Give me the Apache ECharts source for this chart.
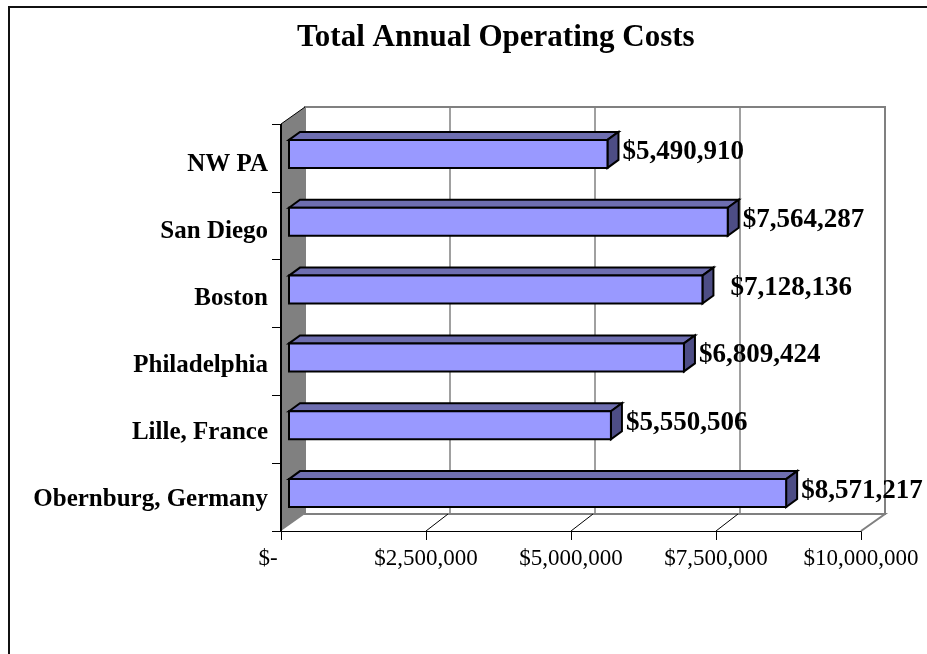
<!DOCTYPE html>
<html><head><meta charset="utf-8">
<style>html,body{margin:0;padding:0;background:#fff}#c{position:absolute;left:0;top:0;width:927px;height:654px}</style>
<script src="https://cdn.jsdelivr.net/npm/echarts@6/dist/echarts.min.js"></script>
</head><body><div id="c"></div>
<script>
var categories = ['Obernburg, Germany','Lille, France','Philadelphia','Boston','San Diego','NW PA'];
var costs = [8571217,5550506,6809424,7128136,7564287,5490910];
var valueTicks = [0,2500000,5000000,7500000,10000000];
var tickLabels = ['$-','$2,500,000','$5,000,000','$7,500,000','$10,000,000'];
var axisMax = 10000000;
var font = '"Liberation Serif","Times New Roman",serif';

function fmt(v){return '$'+String(v).replace(/\B(?=(\d{3})+$)/g,',');}
var DX=24, DY=-17;       // depth of the 3D box
var BX=8, BDX=11, BDY=-8; // bar front offset and bar depth

function wallItem(p, api){
  var a=api.coord([0,0]);
  var top=p.coordSys.y, bottom=p.coordSys.y+p.coordSys.height;
  var r=p.coordSys.x+p.coordSys.width;
  return {type:'group',children:[
    {type:'polygon',shape:{points:[[a[0],top],[a[0]+DX,top+DY],[a[0]+DX,bottom+DY],[a[0],bottom]]},
      style:{fill:'#808080',stroke:null}},
    {type:'polyline',shape:{points:[[a[0]+DX,bottom+DY],[r+DX,bottom+DY],[r,bottom]]},
      style:{fill:null,stroke:'#808080',lineWidth:2}},
    {type:'line',shape:{x1:a[0],y1:top,x2:a[0]+DX,y2:top+DY},style:{stroke:'#000',lineWidth:1}},
    {type:'line',shape:{x1:a[0],y1:top,x2:a[0],y2:bottom},style:{stroke:'#000',lineWidth:2}},
    {type:'text',style:{x:a[0]-13,y:bottom+28,text:tickLabels[0],fill:'#000',
      font:'23px '+font,verticalAlign:'middle',align:'center'}}
  ]};
}
function floorTick(p, api){
  var a=api.coord([api.value(0),0]);
  var bottom=p.coordSys.y+p.coordSys.height;
  return {type:'line',shape:{x1:a[0],y1:bottom,x2:a[0]+DX-2,y2:bottom+DY},style:{stroke:'#000',lineWidth:1}};
}
function barItem(p, api){
  var v=api.value(0), c=api.coord([v,api.value(1)]);
  var h=28;
  var x0=api.coord([0,0])[0]+BX, x1=c[0]+BX;
  var y0=c[1]-h/2-4, y1=y0+h;
  var extra=categories[api.value(1)]==='Boston'?13:0; // this label sits further out in the reference
  var edge={stroke:'#000',lineWidth:2,lineJoin:'miter'};
  return {type:'group',children:[
    {type:'polygon',shape:{points:[[x0,y0],[x0+BDX,y0+BDY],[x1+BDX,y0+BDY],[x1,y0]]},style:Object.assign({fill:'#6E6EB0'},edge)},
    {type:'polygon',shape:{points:[[x1,y0],[x1+BDX,y0+BDY],[x1+BDX,y1+BDY],[x1,y1]]},style:Object.assign({fill:'#4D4D85'},edge)},
    {type:'rect',shape:{x:x0,y:y0,width:x1-x0,height:h},style:Object.assign({fill:'#9999FF'},edge)},
    {type:'text',style:{x:x1+BDX+4+extra,y:(y0+y1)/2+BDY/2+2,text:fmt(v),fill:'#000',
      font:'bold 27px '+font,verticalAlign:'middle',align:'left'}}
  ]};
}

var chart=echarts.init(document.getElementById('c'),null,{renderer:'canvas'});
chart.setOption({
  animation:false,
  backgroundColor:'#fff',
  title:{text:'Total Annual Operating Costs',left:292,top:17,
    textStyle:{fontFamily:font,fontWeight:'bold',fontSize:31,color:'#000'}},
  graphic:[{type:'rect',silent:true,z:-1,shape:{x:9,y:7,width:1000,height:800},style:{fill:null,stroke:'#111',lineWidth:2}}],
  grid:[
    {left:281,top:124,width:580,height:407},
    {left:305,top:107,width:580,height:407,show:true,borderColor:'#808080',borderWidth:2,backgroundColor:'transparent'},
    {left:281,top:130.5,width:580,height:403}
  ],
  xAxis:[
    {gridIndex:0,type:'value',min:0,max:axisMax,interval:2500000,
     axisLine:{show:true,lineStyle:{color:'#000',width:1}},
     axisTick:{show:true,length:9,lineStyle:{color:'#000'}},
     splitLine:{show:false},
     axisLabel:{margin:16,fontFamily:font,fontSize:23,color:'#000',hideOverlap:false,
       formatter:function(v){return v===0?'':tickLabels[valueTicks.indexOf(v)];}}},
    {gridIndex:1,type:'value',min:0,max:axisMax,interval:2500000,
     axisLine:{show:false},axisTick:{show:false},axisLabel:{show:false},
     splitLine:{show:true,lineStyle:{color:'#808080',width:1.5}}},
    {gridIndex:2,type:'value',min:0,max:axisMax,show:false}
  ],
  yAxis:[
    {gridIndex:0,type:'category',data:categories,
     axisLine:{show:false},
     axisTick:{show:true,length:9,lineStyle:{color:'#000'}},
     axisLabel:{show:false}},
    {gridIndex:1,type:'category',data:categories,show:false},
    {gridIndex:2,type:'category',data:categories,
     axisLine:{show:false},axisTick:{show:false},
     axisLabel:{margin:13,fontFamily:font,fontWeight:'bold',fontSize:25,color:'#000'}}
  ],
  series:[
    {type:'custom',xAxisIndex:0,yAxisIndex:0,z:1,silent:true,renderItem:wallItem,data:[[0,0]]},
    {type:'custom',xAxisIndex:0,yAxisIndex:0,z:1,silent:true,renderItem:floorTick,
     data:valueTicks.slice(1,4).map(function(t){return [t,0];})},
    {type:'custom',name:'Total Annual Operating Costs',xAxisIndex:0,yAxisIndex:0,z:3,silent:true,renderItem:barItem,
     encode:{x:0,y:1},data:costs.map(function(v,i){return [v,i];})}
  ]
});
</script></body></html>
